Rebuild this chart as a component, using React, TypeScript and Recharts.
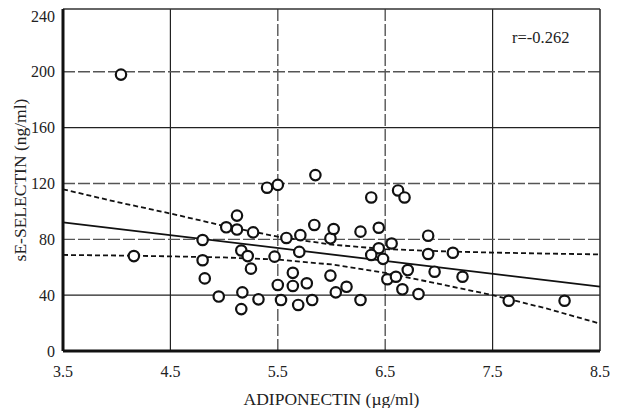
import { ReferenceLine, Scatter, ScatterChart, XAxis, YAxis } from 'recharts';

// points
const adiponectin = [
  4.04, 5.4, 5.5, 5.85, 6.37, 6.62, 6.68, 4.16, 4.8, 4.8, 4.82, 4.95, 5.02, 5.12, 5.12, 5.16, 5.22, 5.25, 5.27,
  5.17, 5.16, 5.32, 5.47, 5.5, 5.53, 5.58, 5.64, 5.64, 5.71, 5.7, 5.77, 5.69, 5.82, 5.84, 5.99, 6.02, 5.99, 6.04,
  6.27, 6.44, 6.56, 6.9, 6.44, 6.37, 6.48, 6.9, 7.13, 6.14, 6.27, 6.52, 6.6, 6.71, 6.96, 7.22, 6.66, 6.81, 7.65,
  8.17,
];
const selectin = [
  198, 117, 119, 126, 110, 115, 110, 68, 79.5, 65, 52, 39, 88.6, 97, 87, 72, 68, 59, 85, 42, 30, 37, 67.6, 47.3,
  36.5, 81, 56, 46.6, 83, 71, 48.5, 33, 36.5, 90.3, 80.7, 87.4, 54, 42, 85.5, 88.3, 77, 82.6, 73.6, 68.8, 66, 69.5,
  70.4, 46, 36.5, 51.4, 53.2, 58, 56.8, 53.2, 44.2, 40.8, 36, 36,
];

// regression line and confidence band
const fitX = [3.5, 8.5];
const fitY = [92.2, 46.1];
const bandX = [3.5, 4.0, 4.5, 5.0, 5.5, 6.0, 6.5, 7.0, 7.5, 8.0, 8.5];
const bandUpper = [115.8, 106.8, 98.5, 89.6, 81.9, 76.2, 73, 71.5, 70.5, 69.8, 69.2];
const bandLower = [68.8, 68.4, 67.8, 67.0, 65.5, 62.0, 56, 48.1, 40, 30.5, 19.6];

const xTicks = [3.5, 4.5, 5.5, 6.5, 7.5, 8.5];
const yTicks = [0, 40, 80, 120, 160, 200, 240];
const solidGridX = [4.5, 7.5];
const dashedGridX = [5.5, 6.5];
const solidGridY = [40, 160];
const dashedGridY = [80, 120, 200];

const points = adiponectin.map((x, i) => ({ x, y: selectin[i] }));
const fit = fitX.map((x, i) => ({ x, y: fitY[i] }));
const upper = bandX.map((x, i) => ({ x, y: bandUpper[i] }));
const lower = bandX.map((x, i) => ({ x, y: bandLower[i] }));

const font = '"Liberation Serif", "Times New Roman", serif';
const tick = { fontSize: 16, fill: '#222', fontFamily: font };
const title = { ...tick, fontSize: 17.5 };

const Ring = (props: any) => (
  <circle cx={props.cx} cy={props.cy} r={5.2} fill="#fff" stroke="#111" strokeWidth={2.2} />
);
const NoMark = () => <g />;

export default function App() {
  return (
    <div style={{ position: 'absolute', left: 0, top: 0, width: 617, height: 408, background: '#fff' }}>
      <ScatterChart width={617} height={408} margin={{ top: 9, right: 17, bottom: 0, left: 0 }}>
        <XAxis
          type="number"
          dataKey="x"
          domain={[3.5, 8.5]}
          ticks={xTicks}
          tickFormatter={(v: number) => v.toFixed(1)}
          tickLine={false}
          tickSize={0}
          tickMargin={15}
          height={57}
          axisLine={{ stroke: '#111', strokeWidth: 3 }}
          tick={tick}
          label={{ value: 'ADIPONECTIN (µg/ml)', position: 'insideBottom', offset: 3, style: title }}
        />
        <YAxis
          type="number"
          dataKey="y"
          domain={[0, 245]}
          ticks={yTicks}
          tickLine={false}
          tickSize={0}
          tickMargin={8}
          width={63}
          axisLine={{ stroke: '#111', strokeWidth: 3 }}
          tick={tick}
          label={{ value: 'sE-SELECTIN (ng/ml)', angle: -90, position: 'center', dx: -12, style: { ...title, textAnchor: 'middle' } }}
        />
        {solidGridX.map((v) => (
          <ReferenceLine key={'sx' + v} x={v} stroke="#222" strokeWidth={1.2} />
        ))}
        {dashedGridX.map((v) => (
          <ReferenceLine key={'dx' + v} x={v} stroke="#555" strokeWidth={1.4} strokeDasharray="12 3" />
        ))}
        {solidGridY.map((v) => (
          <ReferenceLine key={'sy' + v} y={v} stroke="#222" strokeWidth={1.2} />
        ))}
        {dashedGridY.map((v) => (
          <ReferenceLine key={'dy' + v} y={v} stroke="#555" strokeWidth={1.4} strokeDasharray="12 3" />
        ))}
        <ReferenceLine y={245} stroke="#333" strokeWidth={1.6} />
        <ReferenceLine x={8.5} stroke="#333" strokeWidth={1.6} />
        <Scatter data={upper} line={{ stroke: '#111', strokeWidth: 1.8, strokeDasharray: '5 3' }} shape={NoMark} isAnimationActive={false} />
        <Scatter data={lower} line={{ stroke: '#111', strokeWidth: 1.8, strokeDasharray: '5 3' }} shape={NoMark} isAnimationActive={false} />
        <Scatter data={fit} line={{ stroke: '#111', strokeWidth: 1.8 }} shape={NoMark} isAnimationActive={false} />
        <Scatter data={points} shape={Ring} isAnimationActive={false} />
      </ScatterChart>
      <div
        style={{ position: 'absolute', left: 512, top: 28, fontFamily: font, fontSize: 16.5, color: '#222', whiteSpace: 'nowrap' }}
      >
        r=-0.262
      </div>
    </div>
  );
}
